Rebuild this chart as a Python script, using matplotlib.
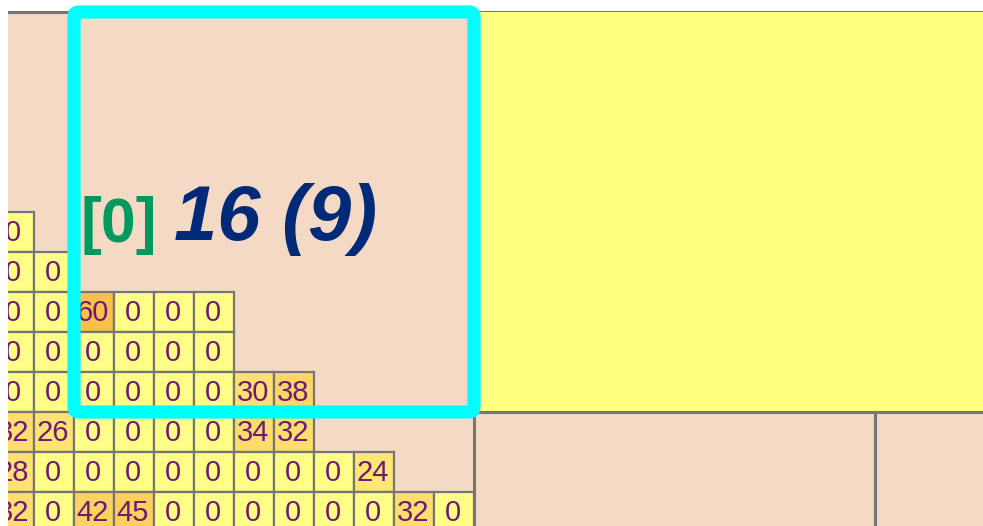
import matplotlib
matplotlib.use("Agg")
import matplotlib.pyplot as plt
from matplotlib.patches import Rectangle, FancyBboxPatch
from matplotlib.colors import LinearSegmentedColormap

# valeurs des cellules, ligne par ligne (du haut vers le bas)
rows = [
    [0],
    [0, 0],
    [0, 0, 60, 0, 0, 0],
    [0, 0, 0, 0, 0, 0],
    [0, 0, 0, 0, 0, 0, 30, 38],
    [32, 26, 0, 0, 0, 0, 34, 32],
    [28, 0, 0, 0, 0, 0, 0, 0, 0, 24],
    [32, 0, 42, 45, 0, 0, 0, 0, 0, 0, 32, 0],
]
label_index = "[0]"
label_value = "16 (9)"

# couleurs
peach = "#f4d9c5"
yellow = "#ffff80"
grey = "#767676"
cyan = "#00ffff"
cmap = LinearSegmentedColormap.from_list(
    "cells", [(0, "#ffff88"), (0.5, "#ffe070"), (1, "#f8c048")])

W, H = 983, 526
left = 8  # bande blanche à gauche
fig = plt.figure(figsize=(W / 100, H / 100), dpi=100)
ax = fig.add_axes([left / W, 0, 1 - left / W, 1])
ax.set_xlim(left, W)
ax.set_ylim(H, 0)
ax.axis("off")

# grille
x0, y0, cell = -6, 212, 40
top = 12

# fonds
ax.add_patch(Rectangle((left, top), W, H, fc=peach, ec="none", zorder=0))
ax.plot([left, W], [top, top], color=grey, lw=2.2, zorder=1)
ax.add_patch(Rectangle((474, top), W, 400, fc=yellow, ec="none", zorder=1))
ax.plot([474, W], [412, 412], color=grey, lw=2.2, zorder=2)
ax.plot([474, 474], [412, H], color=grey, lw=2.2, zorder=2)
ax.plot([875, 875], [412, H], color=grey, lw=2.2, zorder=2)

# cellules
for r, vals in enumerate(rows):
    for c, v in enumerate(vals):
        x = x0 + c * cell
        y = y0 + r * cell
        ax.add_patch(Rectangle((x, y), cell, cell, fc=cmap(v / 60),
                               ec=grey, lw=1.6, zorder=3))
        ax.text(x + cell / 2 - 1, y + cell / 2 + 1, str(v), ha="center",
                va="center", fontsize=21, family="Liberation Sans",
                color="#701a70", zorder=4, clip_on=True)

# cadre cyan
ax.add_patch(FancyBboxPatch((74, top), 400, 400,
                            boxstyle="round,pad=0,rounding_size=5",
                            fc="none", ec=cyan, lw=9.5, zorder=5,
                            clip_on=False))

# étiquette
ax.text(81, 242, label_index, ha="left", va="baseline", fontsize=45,
        family="Liberation Sans", fontweight="bold", color="#009a5e",
        zorder=6)
ax.text(174, 240, label_value, ha="left", va="baseline", fontsize=56,
        family="Liberation Sans", fontweight="bold", fontstyle="italic",
        color="#002a78", zorder=6)

fig.savefig("out.png", dpi=100, facecolor="white")
